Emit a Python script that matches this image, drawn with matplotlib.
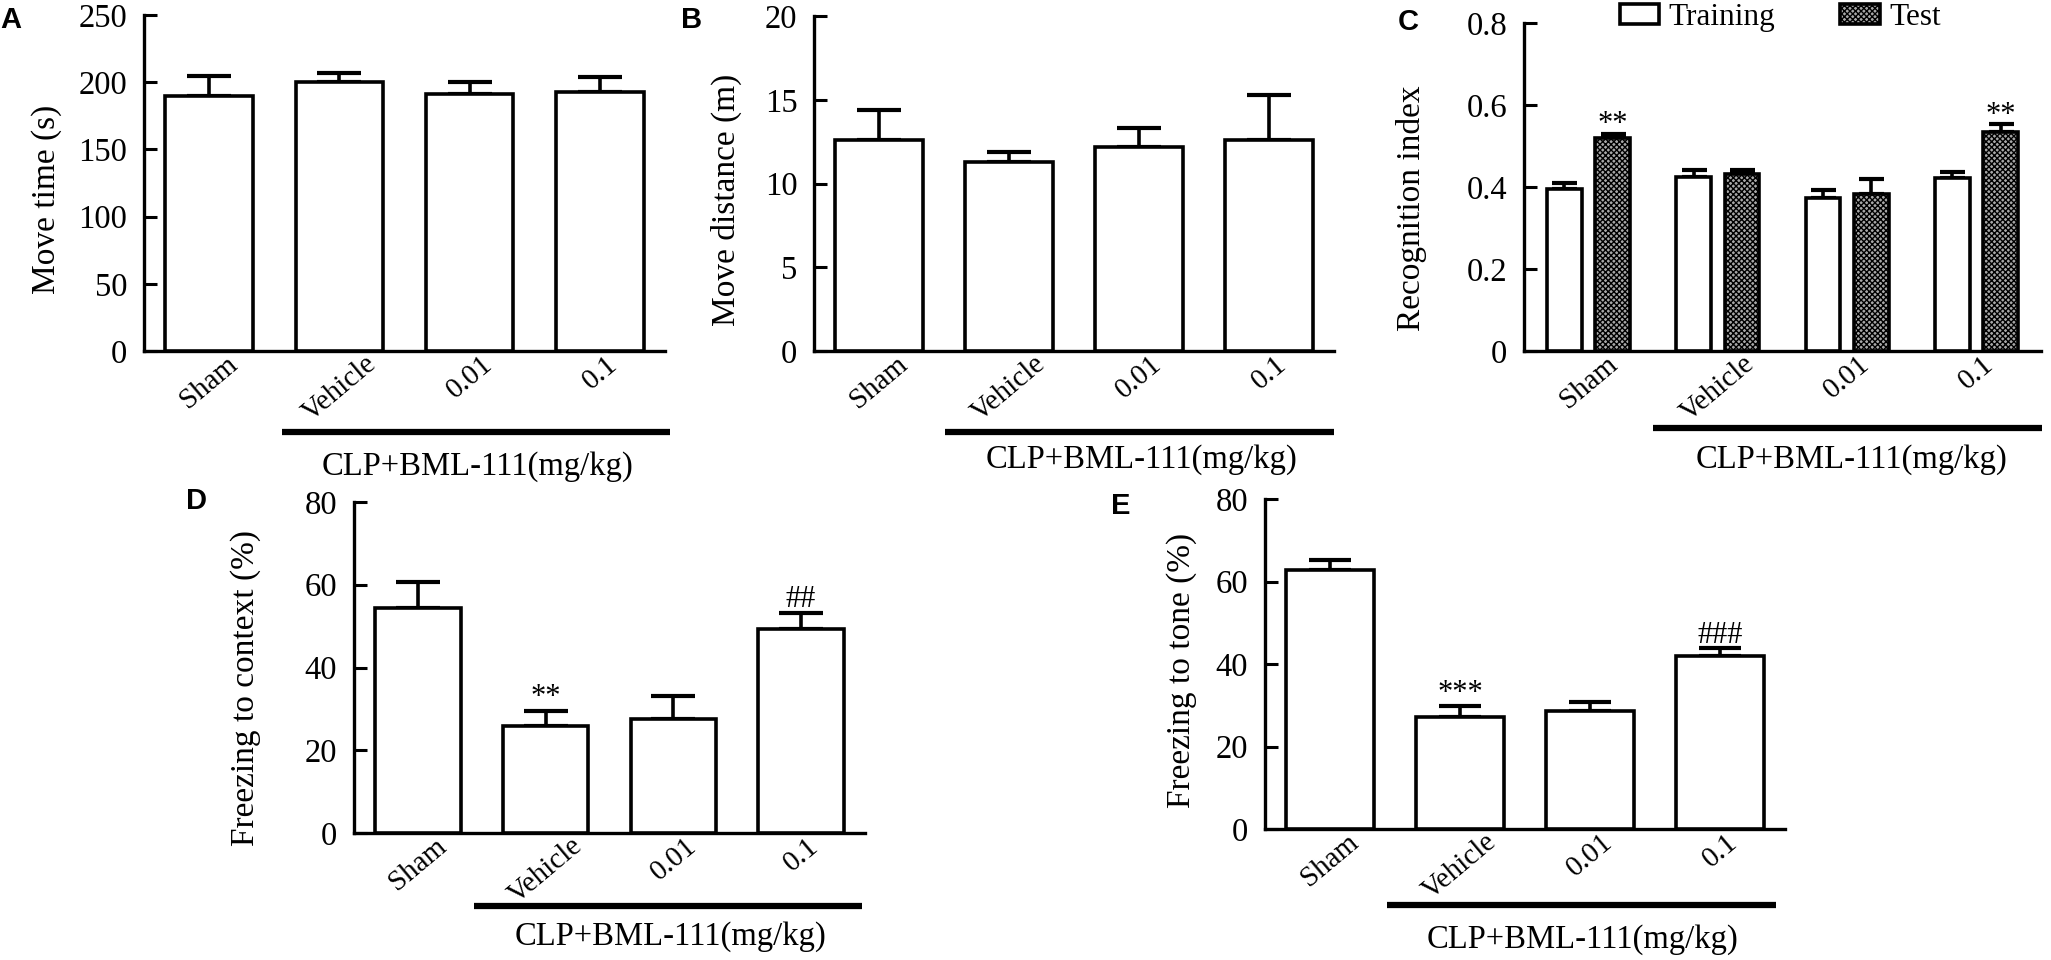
import matplotlib
matplotlib.use("Agg")
import matplotlib.pyplot as plt
import matplotlib.transforms as mtransforms
from matplotlib.patches import Patch
import numpy as np

plt.rcParams["font.family"] = ["Liberation Serif", "DejaVu Serif"]
plt.rcParams["hatch.linewidth"] = 1.0

# Data
groups = ["Sham", "Vehicle", "0.01", "0.1"]
group_title = "CLP+BML-111(mg/kg)"

move_time = [190, 200, 191.4, 192.6]
move_time_err = [14.6, 6.5, 9.0, 11.0]

move_dist = [12.6, 11.3, 12.2, 12.6]
move_dist_err = [1.8, 0.6, 1.1, 2.7]

recog_train = [0.395, 0.424, 0.374, 0.422]
recog_train_err = [0.015, 0.018, 0.019, 0.015]
recog_test = [0.520, 0.431, 0.382, 0.533]
recog_test_err = [0.010, 0.010, 0.037, 0.020]
recog_marks = ["**", "", "", "**"]

freeze_context = [54.3, 25.9, 27.6, 49.2]
freeze_context_err = [6.4, 3.6, 5.4, 3.9]
freeze_context_marks = ["", "**", "", "##"]

freeze_tone = [62.7, 27.1, 28.7, 41.9]
freeze_tone_err = [2.4, 2.8, 2.0, 2.0]
freeze_tone_marks = ["", "***", "", "###"]

W, H = 2051, 960
fig = plt.figure(figsize=(W / 100, H / 100), dpi=100)
FS = 23.5
LW = 2.6


def add_axes(left, top, right, bottom):
    return fig.add_axes([left / W, 1 - bottom / H, (right - left) / W, (bottom - top) / H])


def style(ax, ymax, yticks, yticklabels, ylabel, lab_xy):
    for s in ["top", "right"]:
        ax.spines[s].set_visible(False)
    for s in ["left", "bottom"]:
        ax.spines[s].set_linewidth(2.4)
    ax.set_xlim(-0.5, 3.5)
    ax.set_ylim(0, ymax)
    ax.set_yticks(yticks)
    ax.set_yticklabels(yticklabels)
    ax.tick_params(axis="y", direction="in", length=9, width=2.2, labelsize=FS, pad=12)
    ax.set_xticks(range(len(groups)))
    ax.set_xticklabels(groups, rotation=40, ha="center", fontsize=21)
    ax.tick_params(axis="x", length=0, pad=0)
    ax.set_ylabel(ylabel, fontsize=24)
    ax.yaxis.label.set_va("center")
    ax.yaxis.set_label_coords(*lab_xy)


def group_line(ax, x0, x1, y_line, x_text, y_text):
    tr = mtransforms.blended_transform_factory(ax.transData, ax.transAxes)
    ax.plot([x0, x1], [y_line, y_line], color="black", lw=4.5, transform=tr, clip_on=False,
            solid_capstyle="butt")
    ax.text(x_text, y_text, group_title, transform=tr, ha="center", va="center", fontsize=FS)


def bars(ax, x, vals, errs, width, capsize, **kw):
    ax.bar(x, vals, width=width, edgecolor="black", linewidth=LW, zorder=3, **kw)
    ax.errorbar(x, vals, yerr=[np.zeros(len(vals)), errs], fmt="none", ecolor="black",
                elinewidth=LW, capsize=capsize, capthick=3.0, zorder=2)


def marks(ax, x, vals, errs, labels, offset):
    for xi, v, e, m in zip(x, vals, errs, labels):
        if m:
            ax.text(xi, v + e + offset, m, ha="center", va="baseline", fontsize=22)


x = np.arange(len(groups))

# A
ax = add_axes(144, 15, 665, 351)
bars(ax, x, move_time, move_time_err, 0.67, 16, color="white")
style(ax, 250, [0, 50, 100, 150, 200, 250], ["0", "50", "100", "150", "200", "250"],
      "Move time (s)", (-0.186, 0.452))
group_line(ax, 0.56, 3.54, -0.241, 2.06, -0.345)

# B
ax = add_axes(814, 16, 1334, 351)
bars(ax, x, move_dist, move_dist_err, 0.67, 16, color="white")
style(ax, 20, [0, 5, 10, 15, 20], ["0", "5", "10", "15", "20"],
      "Move distance (m)", (-0.169, 0.451))
group_line(ax, 0.51, 3.5, -0.241, 2.02, -0.324)

# C
ax = add_axes(1524, 23, 2041, 351)
off = 0.187
bars(ax, x - off, recog_train, recog_train_err, 0.27, 9, color="white")
bars(ax, x + off, recog_test, recog_test_err, 0.27, 9, color="#a8a8a8", hatch="xxxxxx")
marks(ax, x + off, recog_test, recog_test_err, recog_marks, 0.004)
style(ax, 0.8, [0, 0.2, 0.4, 0.6, 0.8], ["0", "0.2", "0.4", "0.6", "0.8"],
      "Recognition index", (-0.217, 0.436))
group_line(ax, 0.50, 3.51, -0.235, 2.03, -0.332)
handles = [Patch(facecolor="white", edgecolor="black", linewidth=LW, label="Training"),
           Patch(facecolor="#a8a8a8", edgecolor="black", linewidth=LW, hatch="xxxxxx", label="Test")]
ax.legend(handles=handles, ncol=2, loc="upper left", bbox_to_anchor=(0.185, 1.06), frameon=False,
          fontsize=22.5, handlelength=1.25, handleheight=0.62, handletextpad=0.3,
          columnspacing=2.1, borderpad=0, borderaxespad=0)

# D
ax = add_axes(354, 502, 865, 833)
bars(ax, x, freeze_context, freeze_context_err, 0.67, 16, color="white")
marks(ax, x, freeze_context, freeze_context_err, freeze_context_marks, 1.5)
style(ax, 80, [0, 20, 40, 60, 80], ["0", "20", "40", "60", "80"],
      "Freezing to context (%)", (-0.213, 0.438))
group_line(ax, 0.44, 3.48, -0.221, 1.98, -0.314)

# E
ax = add_axes(1265, 499, 1785, 829)
bars(ax, x, freeze_tone, freeze_tone_err, 0.67, 15, color="white")
marks(ax, x, freeze_tone, freeze_tone_err, freeze_tone_marks, 1.2)
style(ax, 80, [0, 20, 40, 60, 80], ["0", "20", "40", "60", "80"],
      "Freezing to tone (%)", (-0.160, 0.479))
group_line(ax, 0.44, 3.43, -0.230, 1.94, -0.336)

# panel letters
for letter, (px, py) in zip("ABCDE", [(0, 6), (681, 6), (1398, 8), (186, 487), (1111, 492)]):
    fig.text(px / W, 1 - py / H, letter, ha="left", va="top", fontsize=21, fontweight="bold",
             family="Liberation Sans")

fig.savefig("out.png", dpi=100)
